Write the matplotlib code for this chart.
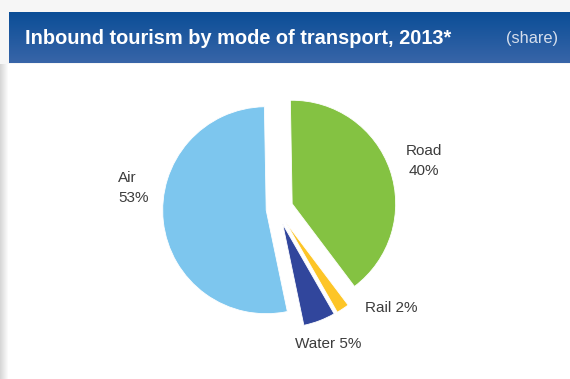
import numpy as np
import matplotlib
matplotlib.use("Agg")
import matplotlib.pyplot as plt
from matplotlib.patches import Rectangle

plt.rcParams['font.family'] = ['Liberation Sans', 'DejaVu Sans']

# share of inbound arrivals by mode of transport (%)
modes = ['Road', 'Rail', 'Water', 'Air']
shares = [40, 2, 5, 53]
colors = ['#84c242', '#fdc527', '#31469c', '#7dc6ee']
explode = [0.155, 0.155, 0.155, 0.105]

title = 'Inbound tourism by mode of transport, 2013*'
unit = '(share)'

W, H = 570, 379
fig = plt.figure(figsize=(W / 100, H / 100), dpi=100)
fig.patch.set_facecolor('#f6f6f6')

# white panel with a soft shadow on the left
bg = fig.add_axes([0, 0, 1, 1])
bg.set_xlim(0, W)
bg.set_ylim(H, 0)
bg.axis('off')
shade = np.linspace(0.84, 1.0, 9).reshape(1, -1)
bg.imshow(shade, cmap='gray', vmin=0, vmax=1, extent=[0, 9, H, 64], aspect='auto')
bg.add_patch(Rectangle((9, 64), W - 9, H - 64, color='white', lw=0))

# header bar with a vertical gradient
top = np.array([0x0b, 0x4e, 0x97]) / 255
bottom = np.array([0x38, 0x65, 0xa8]) / 255
t = np.linspace(0, 1, 50).reshape(-1, 1, 1)
grad = top * (1 - t) + bottom * t
bg.imshow(grad, extent=[9, W, 63, 12], aspect='auto')
bg.text(25, 38.5, title, color='white', fontsize=14.4, fontweight='bold', va='center', ha='left')
bg.text(558, 38.5, unit, color='#d5deec', fontsize=11.8, va='center', ha='right')
bg.set_xlim(0, W)
bg.set_ylim(H, 0)

# pie centred at (277, 209) px, radius 103.5 px
R = 103.5
half = 1.4
cx, cy = 277, 209
size = 2 * half * R
ax = fig.add_axes([(cx - size / 2) / W, (H - cy - size / 2) / H, size / W, size / H])
ax.pie(shares, colors=colors, explode=explode, startangle=91, counterclock=False,
       radius=1, wedgeprops=dict(edgecolor='white', linewidth=0.6))
ax.set_xlim(-half, half)
ax.set_ylim(-half, half)
ax.axis('off')

def px(x, y):
    return (x - cx) / R, (cy - y) / R

lab = {m: f'{m}\n{s}%' for m, s in zip(modes, shares)}
txt = dict(color='#3c3c3c', fontsize=11, linespacing=1.5)
ax.text(*px(118, 188), lab['Air'], ha='left', va='center', **txt)
ax.text(*px(423.5, 161), lab['Road'], ha='center', va='center', multialignment='center', **txt)
ax.text(*px(365, 308), lab['Rail'].replace('\n', ' '), ha='left', va='center', **txt)
ax.text(*px(328.5, 343.5), lab['Water'].replace('\n', ' '), ha='center', va='center', **txt)

fig.savefig('out.png', dpi=100, facecolor=fig.get_facecolor())
